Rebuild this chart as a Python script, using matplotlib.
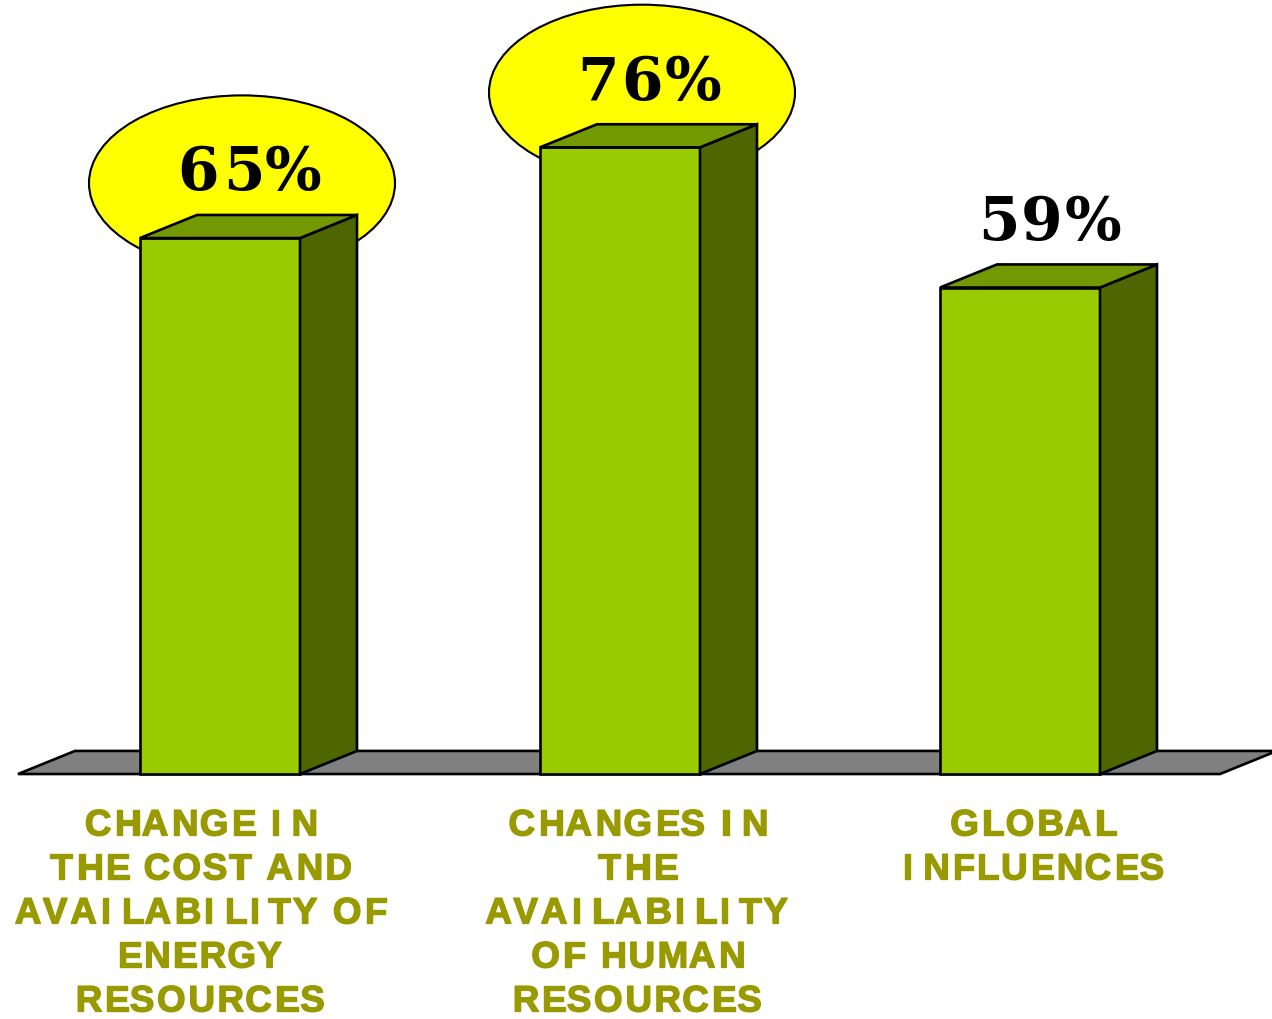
import matplotlib
matplotlib.use("Agg")
import matplotlib.pyplot as plt
import matplotlib.patheffects as pe
from matplotlib.patches import Polygon, Ellipse
from matplotlib.transforms import offset_copy
from matplotlib import font_manager
from matplotlib.ft2font import FT2Font

try:
    from matplotlib.ft2font import LoadFlags
    NO_HINT = LoadFlags.NO_HINTING
except ImportError:  # older matplotlib
    from matplotlib.ft2font import LOAD_NO_HINTING as NO_HINT

# Chart data
categories = [
    ["CHANGE IN", "THE COST AND", "AVAILABILITY OF", "ENERGY", "RESOURCES"],
    ["CHANGES IN", "THE", "AVAILABILITY", "OF HUMAN", "RESOURCES"],
    ["GLOBAL", "INFLUENCES"],
]
values = [65, 76, 59]
value_labels = ["65%", "76%", "59%"]
highlighted = [True, True, False]

# Styling / layout
FRONT = "#99CC00"
SIDE = "#4D6600"
TOP = "#739900"
FLOOR = "#808080"
LABEL_COLOR = "#999900"
EDGE_LW = 1.9
DPI = 100

half_w = 0.2          # half width of a bar front face (category units)
dx, dy = 0.1425, 2.8  # 3-D depth offset (x in category units, y in percent)
caption_x = [-0.0525, 1.04, 2.03]   # caption centres (category units)
caption_y0, caption_step = -7.45, 5.336

fig = plt.figure(figsize=(12.72, 10.2), dpi=DPI)
ax = fig.add_axes([0, 0, 1, 1])
ax.set_xlim(-0.55, 2.63)
ax.set_ylim(-29.71, 93.99)
ax.axis("off")


def spaced_text(x, y, s, size, family, weight, color, tracking, i_extra=0.0,
                stroke=0.0, zorder=4):
    """Draw a string centred on (x, y) with extra letter spacing (pixels)."""
    prop = font_manager.FontProperties(family=family, weight=weight)
    font = FT2Font(font_manager.findfont(prop))
    font.set_size(size, DPI)
    pen = 0.0
    glyphs = []
    for ch in s:
        g = font.load_char(ord(ch), flags=NO_HINT)
        lsb = g.horiBearingX / 64.0
        ink_w = g.width / 64.0
        glyphs.append((ch, pen + lsb, pen + lsb + ink_w))
        pen += g.linearHoriAdvance / 65536.0 + tracking
        if ch == "I":
            pen += i_extra
    drawn = [gl for gl in glyphs if gl[0] != " "]
    left, right = drawn[0][1], drawn[-1][2]
    shift = -(left + right) / 2.0
    effects = [pe.withStroke(linewidth=stroke, foreground=color)] if stroke else None
    for ch, ink_left, _ in drawn:
        tr = offset_copy(ax.transData, fig=fig, x=ink_left + shift, y=0,
                         units="dots")
        ax.text(x, y, ch, transform=tr, ha="left", va="baseline",
                fontsize=size, family=family, fontweight=weight,
                color=color, zorder=zorder, path_effects=effects)


# Floor slab
fx0, fx1 = -0.505, 2.5
ax.add_patch(Polygon([(fx0, 0), (fx1, 0), (fx1 + dx, dy), (fx0 + dx, dy)],
                     closed=True, facecolor=FLOOR, edgecolor="black",
                     lw=EDGE_LW, joinstyle="miter", zorder=1))

for i, (v, lab, hl) in enumerate(zip(values, value_labels, highlighted)):
    L, R = i - half_w, i + half_w
    cx = i + 0.07
    # highlight ellipse behind the bar
    if hl:
        ax.add_patch(Ellipse((i + 0.055, v + 6.65), 0.765, 21.3,
                             facecolor="#FFFF00", edgecolor="black",
                             lw=EDGE_LW * 0.8, zorder=2))
    # front face
    ax.add_patch(Polygon([(L, 0), (R, 0), (R, v), (L, v)], closed=True,
                         facecolor=FRONT, edgecolor="black", lw=EDGE_LW,
                         joinstyle="miter", zorder=3))
    # side face
    ax.add_patch(Polygon([(R, 0), (R + dx, dy), (R + dx, v + dy), (R, v)],
                         closed=True, facecolor=SIDE, edgecolor="black",
                         lw=EDGE_LW, joinstyle="miter", zorder=3))
    # top face
    ax.add_patch(Polygon([(L, v), (R, v), (R + dx, v + dy), (L + dx, v + dy)],
                         closed=True, facecolor=TOP, edgecolor="black",
                         lw=EDGE_LW, joinstyle="miter", zorder=3))
    # value label
    spaced_text(cx, v + 5.9, lab, 43, "DejaVu Serif", "bold", "black",
                tracking=3.5)

    # category caption, one line at a time
    for k, line in enumerate(categories[i]):
        spaced_text(caption_x[i], caption_y0 - k * caption_step, line, 26.5,
                    "Liberation Sans", "bold", LABEL_COLOR,
                    tracking=2.2, i_extra=8.5, stroke=1.0)

fig.savefig("out.png", dpi=DPI, facecolor="white")
